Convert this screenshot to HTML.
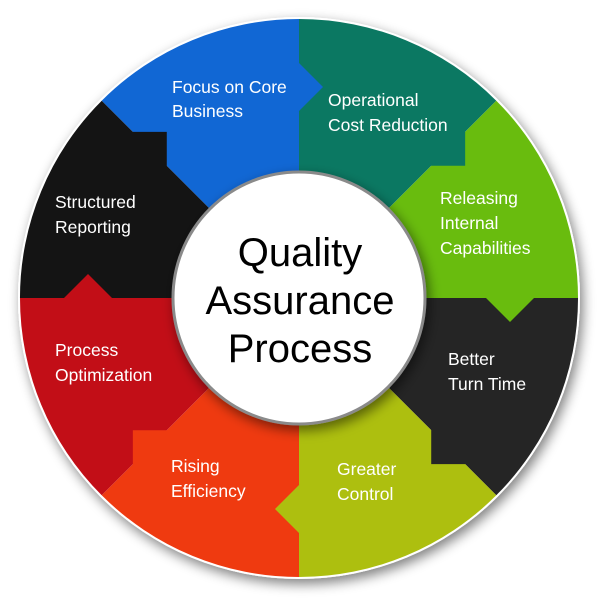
<!DOCTYPE html>
<html><head><style>
html,body{margin:0;padding:0;background:#fff;width:600px;height:600px;overflow:hidden;}
svg{display:block;}
.t{font-family:"Liberation Sans Narrow","Liberation Sans",sans-serif;font-size:17.5px;fill:#fff;}
.c{font-family:"Liberation Sans",sans-serif;font-size:40px;fill:#000;text-anchor:middle;}
</style></head><body>
<svg width="600" height="600" viewBox="0 0 600 600" xmlns="http://www.w3.org/2000/svg">
<defs>
<filter id="sh" x="-20%" y="-20%" width="140%" height="140%">
<feGaussianBlur in="SourceAlpha" stdDeviation="6"/><feOffset dx="3" dy="5"/>
<feComponentTransfer><feFuncA type="linear" slope="0.5"/></feComponentTransfer>
<feMerge><feMergeNode/><feMergeNode in="SourceGraphic"/></feMerge></filter>
<path id="w" d="M-88.4,-88.4 L-197.3,-197.3 A279,279 0 0 1 0,-279 L0,-125 A125,125 0 0 0 -88.4,-88.4 Z"/>
<path id="a" d="M-1,-236 L24,-211 L-1,-186 Z"/>
</defs>
<circle cx="299" cy="298" r="281" fill="#fff" filter="url(#sh)"/>
<g transform="translate(299,298)">
<g transform="rotate(0)" fill="#1167d4"><use href="#w"/></g>
<g transform="rotate(45)" fill="#0b7862"><use href="#w"/></g>
<g transform="rotate(90)" fill="#69bc0e"><use href="#w"/></g>
<g transform="rotate(135)" fill="#252525"><use href="#w"/></g>
<g transform="rotate(180)" fill="#adbf0f"><use href="#w"/></g>
<g transform="rotate(225)" fill="#ef3a10"><use href="#w"/></g>
<g transform="rotate(270)" fill="#c20e17"><use href="#w"/></g>
<g transform="rotate(315)" fill="#141414"><use href="#w"/></g>
<g transform="rotate(0)" fill="#1167d4"><use href="#a"/></g>
<g transform="rotate(45)" fill="#0b7862"><use href="#a"/></g>
<g transform="rotate(90)" fill="#69bc0e"><use href="#a"/></g>
<g transform="rotate(135)" fill="#252525"><use href="#a"/></g>
<g transform="rotate(180)" fill="#adbf0f"><use href="#a"/></g>
<g transform="rotate(225)" fill="#ef3a10"><use href="#a"/></g>
<g transform="rotate(270)" fill="#c20e17"><use href="#a"/></g>
<g transform="rotate(315)" fill="#141414"><use href="#a"/></g>
<circle cx="0" cy="0" r="126" fill="#fff" stroke="#8a8a8a" stroke-width="3" filter="url(#sh)"/>
</g>
<text class="t" x="172" y="93">Focus on Core</text>
<text class="t" x="172" y="117">Business</text>
<text class="t" x="328" y="106">Operational</text>
<text class="t" x="328" y="131">Cost Reduction</text>
<text class="t" x="440" y="204">Releasing</text>
<text class="t" x="440" y="229">Internal</text>
<text class="t" x="440" y="254">Capabilities</text>
<text class="t" x="448" y="365">Better</text>
<text class="t" x="448" y="390">Turn Time</text>
<text class="t" x="337" y="475">Greater</text>
<text class="t" x="337" y="500">Control</text>
<text class="t" x="171" y="472">Rising</text>
<text class="t" x="171" y="497">Efficiency</text>
<text class="t" x="55" y="356">Process</text>
<text class="t" x="55" y="381">Optimization</text>
<text class="t" x="55" y="208">Structured</text>
<text class="t" x="55" y="233">Reporting</text>
<text class="c" x="300" y="266">Quality</text>
<text class="c" x="300" y="314">Assurance</text>
<text class="c" x="300" y="362">Process</text>
</svg>
</body></html>
